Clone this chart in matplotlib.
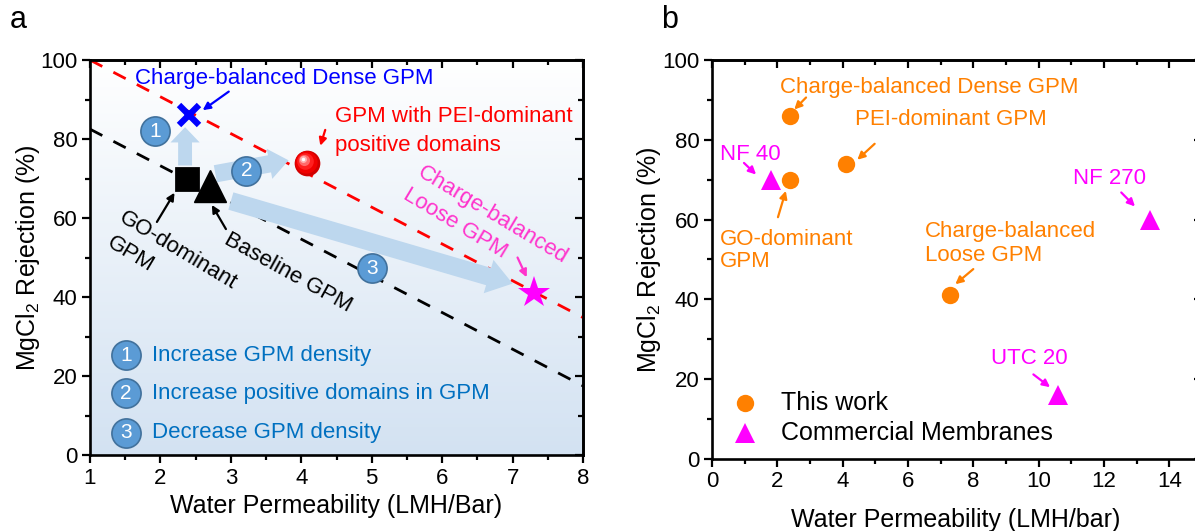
import numpy as np
import matplotlib
matplotlib.use("Agg")
import matplotlib.pyplot as plt
from matplotlib.patches import FancyArrowPatch
from matplotlib.colors import LinearSegmentedColormap
import matplotlib.transforms as mtrans

plt.rcParams['font.family'] = ['Liberation Sans', 'DejaVu Sans']
plt.rcParams['mathtext.fontset'] = 'custom'
plt.rcParams['mathtext.rm'] = 'Liberation Sans'

# ---------------- data: panel a ----------------
a_names = ['GO-dominant GPM', 'Baseline GPM', 'Charge-balanced Dense GPM',
           'GPM with PEI-dominant positive domains', 'Charge-balanced Loose GPM']
a_perm = [2.38, 2.7, 2.4, 4.08, 7.3]
a_rej = [70, 68, 86, 74, 41]
red_line_x = [1, 8]
red_line_y = [100, 34.8]
black_line_x = [1, 8]
black_line_y = [82.5, 17.5]
steps = ['Increase GPM density', 'Increase positive domains in GPM', 'Decrease GPM density']

# ---------------- data: panel b ----------------
this_names = ['Charge-balanced Dense GPM', 'GO-dominant GPM', 'PEI-dominant GPM',
              'Charge-balanced Loose GPM']
this_perm = [2.4, 2.4, 4.1, 7.3]
this_rej = [86, 70, 74, 41]
comm_names = ['NF 40', 'NF 270', 'UTC 20']
comm_perm = [1.8, 13.4, 10.6]
comm_rej = [70, 60, 16]

BLUE_C = '#5B9BD5'
BLUE_T = '#0070C0'
LB = '#BDD7EE'
ORANGE = '#FF8000'
MAG = '#FF00FF'
PINK = '#FF33CC'
FS = 16

fig = plt.figure(figsize=(11.95, 5.31), dpi=100)
axa = fig.add_axes([0.0753, 0.1431, 0.4126, 0.7439])
axb = fig.add_axes([0.5958, 0.1356, 0.41, 0.7514])


def style_axes(ax, xmaj, xmin, ymaj, ymin, xlim, ylim):
    ax.set_xlim(*xlim)
    ax.set_ylim(*ylim)
    ax.set_xticks(xmaj)
    ax.set_xticks(xmin, minor=True)
    ax.set_yticks(ymaj)
    ax.set_yticks(ymin, minor=True)
    for s in ax.spines.values():
        s.set_linewidth(1.9)
    ax.tick_params(which='both', direction='out', width=1.6, labelsize=16, pad=3)
    ax.tick_params(which='major', length=6)
    ax.tick_params(which='minor', length=3.5)
    top = ax.secondary_xaxis('top')
    top.set_xticks(xmaj)
    top.set_xticks(xmin, minor=True)
    top.tick_params(which='both', direction='in', width=1.6, labeltop=False)
    top.tick_params(which='major', length=6)
    top.tick_params(which='minor', length=3.5)
    top.spines['top'].set_linewidth(1.9)
    right = ax.secondary_yaxis('right')
    right.set_yticks(ymaj)
    right.set_yticks(ymin, minor=True)
    right.tick_params(which='both', direction='in', width=1.6, labelright=False)
    right.tick_params(which='major', length=6)
    right.tick_params(which='minor', length=3.5)
    right.spines['right'].set_linewidth(1.9)


# ======================= panel a =======================
style_axes(axa, np.arange(1, 9, 1), np.arange(1.5, 8, 1), np.arange(0, 101, 20),
           np.arange(10, 100, 20), (1, 8), (0, 100))

cmap = LinearSegmentedColormap.from_list('bg', ['#FFFFFF', '#D3E2F2'])
grad = np.linspace(0, 1, 256).reshape(-1, 1)
axa.imshow(grad, extent=[1, 8, 0, 100], cmap=cmap, aspect='auto', zorder=0,
           origin='upper')
axa.set_xlim(1, 8)
axa.set_ylim(0, 100)

axa.plot(red_line_x, red_line_y, color='#FF0000', lw=2, dashes=(5, 4.5), zorder=2)
axa.plot(black_line_x, black_line_y, color='black', lw=2, dashes=(5, 4.5), zorder=2)

# light blue arrows
def big_arrow(ax, p0, p1, tw, hw, hl):
    ar = FancyArrowPatch(p0, p1, arrowstyle=f'simple,head_length={hl},head_width={hw},tail_width={tw}',
                         mutation_scale=1, color=LB, lw=0, shrinkA=0, shrinkB=0, zorder=3)
    ax.add_patch(ar)

big_arrow(axa, (a_perm[0] - 0.03, 73.3), (a_perm[0] - 0.03, 83.0), 10, 21, 11)
big_arrow(axa, (2.78, 71.2), (3.82, 74.6), 12.5, 22, 14)
big_arrow(axa, (3.0, 64.3), (7.0, 43.4), 13, 25, 18)

# markers
axa.plot(a_perm[0], a_rej[0], marker='s', ms=16, mfc='black', mec='black',
         mew=2, zorder=5, ls='none')
axa.plot(a_perm[1], a_rej[1], marker='^', ms=23, color='black', zorder=5, ls='none')
axa.plot(a_perm[2], a_rej[2], marker='x', ms=15, mew=4.5, color='#0000FF', zorder=5, ls='none')
# glossy red sphere
sphere_layers = [(18.5, '#D00000', 0, 0), (16, '#F00000', -0.5, 0.5), (12, '#FF2020', -1.2, 1.2),
                 (8, '#FF6A6A', -2.0, 2.0), (5, '#FFB0B0', -2.6, 2.6), (2.5, '#FFFFFF', -3.0, 3.0)]
for ms_, col, dx, dy in sphere_layers:
    tr = mtrans.offset_copy(axa.transData, fig=fig, x=dx, y=dy, units='points')
    axa.plot(a_perm[3], a_rej[3], marker='o', ms=ms_, color=col, mew=0, zorder=5,
             ls='none', transform=tr)
axa.plot(a_perm[4], a_rej[4], marker='*', ms=24, color=MAG, mew=0, zorder=5, ls='none')

# circled step numbers
def circ_num(ax, x, y, s):
    ax.plot(x, y, marker='o', ms=21, mfc=BLUE_C, mec='#41719C', mew=1.2, ls='none', zorder=6)
    ax.text(x, y, s, color='white', fontsize=15, ha='center', va='center', zorder=7)

circ_num(axa, 1.92, 82.0, '1')
circ_num(axa, 3.22, 72.0, '2')
circ_num(axa, 5.0, 47.3, '3')

def arr(ax, xy, xytext, color):
    ax.annotate('', xy=xy, xytext=xytext,
                arrowprops=dict(arrowstyle='-|>', color=color, lw=1.6, mutation_scale=11,
                                shrinkA=0, shrinkB=0))

# annotations
axa.text(1.64, 95.3, 'Charge-balanced Dense GPM', color='#0000FF', fontsize=FS, ha='left', va='center')
arr(axa, (2.6, 87.3), (2.97, 92.0), '#0000FF')
axa.text(4.48, 85.6, 'GPM with PEI-dominant', color='#FF0000', fontsize=FS, ha='left', va='center')
axa.text(4.48, 78.4, 'positive domains', color='#FF0000', fontsize=FS, ha='left', va='center')
arr(axa, (4.27, 78.3), (4.34, 82.3), '#FF0000')
axa.text(1.44, 60.4, 'GO-dominant', color='black', fontsize=FS, rotation=-31,
         ha='left', va='center', rotation_mode='anchor')
axa.text(1.27, 54.0, 'GPM', color='black', fontsize=FS, rotation=-31,
         ha='left', va='center', rotation_mode='anchor')
arr(axa, (2.2, 66.4), (1.95, 59.0), 'black')
axa.text(2.93, 54.9, 'Baseline GPM', color='black', fontsize=FS, rotation=-29,
         ha='left', va='center', rotation_mode='anchor')
arr(axa, (2.73, 63.3), (2.93, 57.2), 'black')
axa.text(6.71, 60.8, 'Charge-balanced', color=PINK, fontsize=FS, rotation=-31,
         ha='center', va='center', rotation_mode='anchor')
axa.text(6.18, 58.5, 'Loose GPM', color=PINK, fontsize=FS, rotation=-31,
         ha='center', va='center', rotation_mode='anchor')
arr(axa, (7.2, 45.0), (7.07, 50.0), PINK)

# step legend
for i, (yy, s) in enumerate(zip([25.3, 15.6, 5.6], steps)):
    circ_num(axa, 1.51, yy, str(i + 1))
    axa.text(1.88, yy, s, color=BLUE_T, fontsize=FS, ha='left', va='center')

axa.set_xlabel('Water Permeability (LMH/Bar)', fontsize=18)
axa.set_ylabel('MgCl$_2$ Rejection (%)', fontsize=18)
axa.xaxis.set_label_coords(0.5, -0.099)
axa.yaxis.set_label_coords(-0.097, 0.5)
fig.text(0.008, 0.962, 'a', fontsize=22, ha='left', va='center')

# ======================= panel b =======================
style_axes(axb, np.arange(0, 15, 2), np.arange(1, 15, 2), np.arange(0, 101, 20),
           np.arange(10, 100, 20), (0, 15), (0, 100))

axb.plot(this_perm, this_rej, marker='o', ms=12.5, color=ORANGE, mew=0, ls='none', zorder=5)
axb.plot(comm_perm, comm_rej, marker='^', ms=14, color=MAG, mew=0, ls='none', zorder=5)

axb.text(2.07, 93.2, this_names[0], color=ORANGE, fontsize=FS, ha='left', va='center')
arr(axb, (2.52, 87.6), (2.88, 90.6), ORANGE)
axb.text(4.37, 85.0, this_names[2], color=ORANGE, fontsize=FS, ha='left', va='center')
arr(axb, (4.45, 75.0), (4.98, 79.0), ORANGE)
axb.text(0.25, 55.0, 'GO-dominant', color=ORANGE, fontsize=FS, ha='left', va='center')
axb.text(0.25, 49.4, 'GPM', color=ORANGE, fontsize=FS, ha='left', va='center')
arr(axb, (2.26, 67.2), (2.02, 60.6), ORANGE)
axb.text(6.51, 57.1, 'Charge-balanced', color=ORANGE, fontsize=FS, ha='left', va='center')
axb.text(6.51, 50.9, 'Loose GPM', color=ORANGE, fontsize=FS, ha='left', va='center')
arr(axb, (7.45, 43.8), (8.0, 47.6), ORANGE)

axb.text(0.25, 76.2, comm_names[0], color=MAG, fontsize=FS, ha='left', va='center')
arr(axb, (1.35, 71.3), (0.98, 74.2), MAG)
axb.text(11.04, 70.4, comm_names[1], color=MAG, fontsize=FS, ha='left', va='center')
arr(axb, (12.95, 63.3), (12.53, 66.8), MAG)
axb.text(8.53, 25.3, comm_names[2], color=MAG, fontsize=FS, ha='left', va='center')
arr(axb, (10.35, 18.0), (9.84, 21.2), MAG)

# legend
axb.plot([1.0], [14.0], marker='o', ms=12.5, color=ORANGE, mew=0, ls='none')
axb.plot([1.0], [6.6], marker='^', ms=14, color=MAG, mew=0, ls='none')
axb.text(2.1, 14.0, 'This work', fontsize=18, ha='left', va='center')
axb.text(2.1, 6.6, 'Commercial Membranes', fontsize=18, ha='left', va='center')

axb.set_xlabel('Water Permeability (LMH/bar)', fontsize=18)
axb.set_ylabel('MgCl$_2$ Rejection (%)', fontsize=18)
axb.xaxis.set_label_coords(0.498, -0.123)
axb.yaxis.set_label_coords(-0.100, 0.5)
fig.text(0.553, 0.962, 'b', fontsize=22, ha='left', va='center')

fig.savefig('out.png', dpi=100)
